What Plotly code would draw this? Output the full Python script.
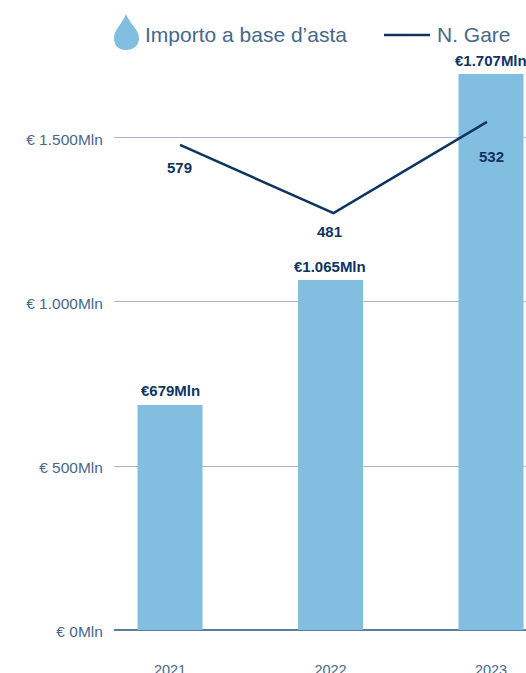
import plotly.graph_objects as go

years = ["2021", "2022", "2023"]
importo_mln = [686, 1067, 1695]          # bar heights as read against the left axis
importo_labels = ["€679Mln", "€1.065Mln", "€1.707Mln"]
gare_position = [1479, 1271, 1549]       # line heights as read against the left axis
gare_labels = ["579", "481", "532"]
y_ticks = [0, 500, 1000, 1500]
y_tick_labels = ["€ 0Mln", "€ 500Mln", "€ 1.000Mln", "€ 1.500Mln"]

BAR = "#82BEDF"
NAVY = "#0D3560"
TEXT = "#47688A"
FONT = "Liberation Sans"
W, H = 526, 673
L, PH = 114, 630

fig = go.Figure()
fig.add_bar(x=years, y=importo_mln, width=0.405, marker=dict(color=BAR, line=dict(width=0)), hoverinfo="skip")
fig.add_scatter(x=years, y=gare_position, mode="lines", xaxis="x2", yaxis="y",
                line=dict(color=NAVY, width=2.5), hoverinfo="skip")

bar_label_dx = [0, -1, 0]
for i, (val, lab, dx) in enumerate(zip(importo_mln, importo_labels, bar_label_dx)):
    fig.add_annotation(x=i, y=val, xref="x", yref="y", text=f"<b>{lab}</b>", showarrow=False,
                       xshift=dx, yshift=14, font=dict(family=FONT, size=15, color=NAVY))

label_offsets = [(9, -23), (-1, -18), (0, -35)]
for i, (pos, lab, (dx, dy)) in enumerate(zip(gare_position, gare_labels, label_offsets)):
    fig.add_annotation(x=i, y=pos, xref="x", yref="y", text=f"<b>{lab}</b>", showarrow=False,
                       xshift=dx, yshift=dy, font=dict(family=FONT, size=15, color=NAVY))

# legend drawn by hand: a drop icon and a line key (paper coordinates span the plot area)
def px(x): return (x - L) / (W - L)
def py(y): return 1 - y / PH
drop = [("M", 126, 14), ("C", 122, 24, 114, 30, 114, 38), ("C", 114, 46, 119, 50, 126, 50),
        ("C", 133, 50, 139, 46, 139, 38), ("C", 139, 30, 130, 24, 126, 14)]
path = ""
for seg in drop:
    pts = seg[1:]
    path += seg[0] + " ".join(f"{px(pts[i]):.5f},{py(pts[i+1]):.5f}" for i in range(0, len(pts), 2)) + " "
fig.add_shape(type="path", xref="paper", yref="paper", path=path + "Z",
              fillcolor=BAR, line=dict(width=0))
fig.add_shape(type="line", xref="paper", yref="paper", x0=px(384), x1=px(430), y0=py(35), y1=py(35),
              line=dict(color=NAVY, width=2.5))
for text, x in [("Importo a base d’asta", 145), ("N. Gare", 437)]:
    fig.add_annotation(text=text, xref="paper", yref="paper", x=px(x), y=py(35), xanchor="left",
                       yanchor="middle", showarrow=False, xshift=-2, yshift=1,
                       font=dict(family=FONT, size=21, color=TEXT))

fig.update_layout(
    width=W, height=H, margin=dict(l=L, r=0, t=0, b=H - PH, pad=0),
    paper_bgcolor="white", plot_bgcolor="white", showlegend=False,
    font=dict(family=FONT, color=TEXT, size=14),
    xaxis=dict(type="category", range=[-0.349, 2.218], showgrid=False, zeroline=False, showline=False,
               automargin=False, ticks="outside", ticklen=27, tickcolor="rgba(0,0,0,0)",
               tickfont=dict(size=14.5, color=TEXT)),
    xaxis2=dict(type="category", overlaying="x", range=[-0.43, 2.254], visible=False),
    yaxis=dict(range=[0, 1920.7], tickvals=y_ticks, ticktext=y_tick_labels, showgrid=True, automargin=False,
               gridcolor="#A9B5CC", gridwidth=1, zeroline=True, zerolinecolor="#5B7D9C", zerolinewidth=2,
               ticks="outside", ticklen=7, tickcolor="rgba(0,0,0,0)", ticklabelshift=2,
               tickfont=dict(size=15.5, color=TEXT)),
)
fig.write_html("out.html", config={"displayModeBar": False},
               post_script="document.body.style.margin='0';document.documentElement.style.overflow='hidden';")
